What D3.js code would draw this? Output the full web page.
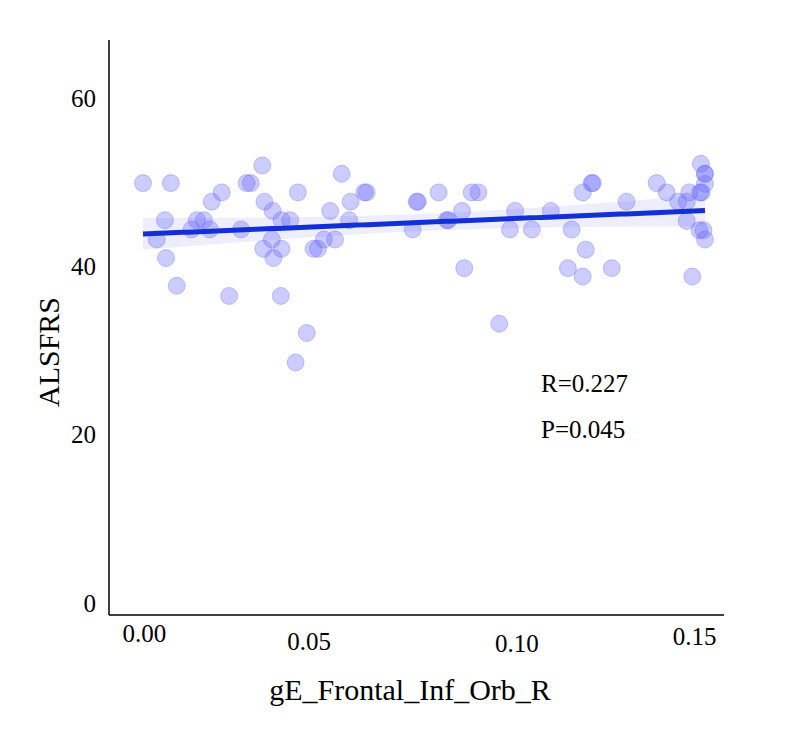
<!DOCTYPE html>
<html><head><meta charset="utf-8">
<script src="https://cdn.jsdelivr.net/npm/d3@7/dist/d3.min.js"></script>
<style>body{margin:0;background:#fff}svg{display:block}</style>
</head><body>
<script>
// ---- data ----
const xValues = [0.000,0.0075,0.0321,0.0279,0.0290,0.0212,0.0185,0.0417,0.0327,0.0349,
  0.0059,0.0145,0.0164,0.0373,0.0396,0.0131,0.0180,0.0264,0.0037,0.0347,
  0.0324,0.0373,0.0351,0.0062,0.0459,0.0471,0.0091,0.0232,0.0371,0.0441,
  0.0411,0.0535,0.0596,0.0602,0.0559,0.0504,0.0555,0.0487,0.0517,0.0740,
  0.0737,0.0796,0.0885,0.0903,0.0859,0.0822,0.0818,0.0726,0.0988,0.1002,
  0.0865,0.0959,0.1098,0.1047,0.1154,0.1184,0.1208,0.1211,0.1192,0.1144,
  0.1184,0.1262,0.1302,0.1383,0.1410,0.1441,0.1464,0.1464,0.1479,0.1502,
  0.1513,0.1513,0.1513,0.1471,0.1500,0.1504,0.1498,0.1509,0.1513];
const yValues = [49.9,49.9,52.0,49.9,49.9,48.8,47.7,48.8,47.7,46.6,
  45.5,45.5,45.5,45.5,45.5,44.4,44.4,44.4,43.2,43.2,
  42.1,42.1,41.0,41.0,42.1,42.1,37.7,36.5,36.5,32.1,
  28.6,51.0,48.8,48.8,47.7,46.6,45.5,43.2,43.2,47.7,
  47.7,48.8,48.8,48.8,46.6,45.5,45.5,44.4,44.4,46.6,
  39.8,33.2,46.6,44.4,44.4,48.8,49.9,49.9,42.0,39.8,
  38.8,39.8,47.7,49.9,48.8,47.7,47.7,45.4,38.8,52.2,
  51.0,51.0,49.8,48.8,48.8,48.8,44.3,44.3,43.2];
const xTicks = [0, 0.05, 0.10, 0.15];
const xTickLabels = ["0.00", "0.05", "0.10", "0.15"];
const yTicks = [0, 20, 40, 60];
const xTitle = "gE_Frontal_Inf_Orb_R";
const yTitle = "ALSFRS";
const statLines = ["R=0.227", "P=0.045"];

// ---- layout / style ----
const W = 786, H = 738;
const plot = {left: 109, right: 724, top: 40, bottom: 615};
const font = "'Liberation Serif','Times New Roman',serif";
const xLabelNudge = [[1,0],[-20,8],[2,10],[-6,3]]; // reference label placement quirks

const svg = d3.select("body").append("svg").attr("width", W).attr("height", H);

const x = d3.scaleLinear().domain([-0.00915, 0.15643]).range([plot.left, plot.right]);
const y = d3.scaleLinear().domain([-1.4, 66.9]).range([plot.bottom, plot.top]);

// regression + 95% CI computed from data
const n = xValues.length;
const mx = d3.mean(xValues), my = d3.mean(yValues);
let sxx = 0, sxy = 0;
for (let i = 0; i < n; i++) { sxx += (xValues[i]-mx)**2; sxy += (xValues[i]-mx)*(yValues[i]-my); }
const b = sxy/sxx, a = my - b*mx;
let sse = 0;
for (let i = 0; i < n; i++) sse += (yValues[i] - (a + b*xValues[i]))**2;
const s = Math.sqrt(sse/(n-2));
const tcrit = 1.992;
const xmin = d3.min(xValues), xmax = d3.max(xValues);
const grid = d3.range(0, 101).map(i => xmin + (xmax-xmin)*i/100);
const band = grid.map(xv => {
  const yh = a + b*xv;
  const se = s*Math.sqrt(1/n + (xv-mx)**2/sxx);
  return {x: xv, lo: yh - tcrit*se, hi: yh + tcrit*se, y: yh};
});

svg.append("path").datum(band)
  .attr("d", d3.area().x(d => x(d.x)).y0(d => y(d.lo)).y1(d => y(d.hi)))
  .attr("fill", "#ececfb").attr("opacity", 0.9);

svg.append("g").selectAll("circle").data(d3.zip(xValues, yValues)).join("circle")
  .attr("cx", d => x(d[0])).attr("cy", d => y(d[1])).attr("r", 8.5)
  .attr("fill", "#6464ff").attr("fill-opacity", 0.33)
  .attr("stroke", "#6464ff").attr("stroke-opacity", 0.35).attr("stroke-width", 1);

svg.append("path").datum(band)
  .attr("d", d3.line().x(d => x(d.x)).y(d => y(d.y)))
  .attr("fill", "none").attr("stroke", "#1330d8").attr("stroke-width", 5);

// axes
const gx = svg.append("g").attr("transform", `translate(0,${plot.bottom})`)
  .call(d3.axisBottom(x).tickValues(xTicks).tickFormat((d,i) => xTickLabels[i]).tickSize(0).tickPadding(9));
gx.select(".domain").remove();
gx.selectAll("text").attr("font-family", font).attr("font-size", 25).attr("fill", "#000")
  .attr("dx", (d,i) => xLabelNudge[i][0]).attr("transform", (d,i) => `translate(0,${xLabelNudge[i][1]})`);

const gy = svg.append("g").attr("transform", `translate(${plot.left},0)`)
  .call(d3.axisLeft(y).tickValues(yTicks).tickSize(0).tickPadding(13));
gy.select(".domain").remove();
gy.selectAll("text").attr("font-family", font).attr("font-size", 25).attr("fill", "#000");

svg.append("line").attr("x1", plot.left).attr("x2", plot.left).attr("y1", plot.top).attr("y2", plot.bottom)
  .attr("stroke", "#000").attr("stroke-width", 1.5);
svg.append("line").attr("x1", plot.left).attr("x2", plot.right).attr("y1", plot.bottom).attr("y2", plot.bottom)
  .attr("stroke", "#000").attr("stroke-width", 1.5);

svg.append("text").attr("x", 410).attr("y", 700).attr("text-anchor", "middle")
  .attr("font-family", font).attr("font-size", 30).text(xTitle);
svg.append("text").attr("transform", "translate(59,352) rotate(-90)").attr("text-anchor", "middle")
  .attr("font-family", font).attr("font-size", 30).text(yTitle);

svg.selectAll(".stat").data(statLines).join("text")
  .attr("x", 541).attr("y", (d,i) => 392 + i*46)
  .attr("font-family", font).attr("font-size", 25).text(d => d);
</script>
</body></html>
